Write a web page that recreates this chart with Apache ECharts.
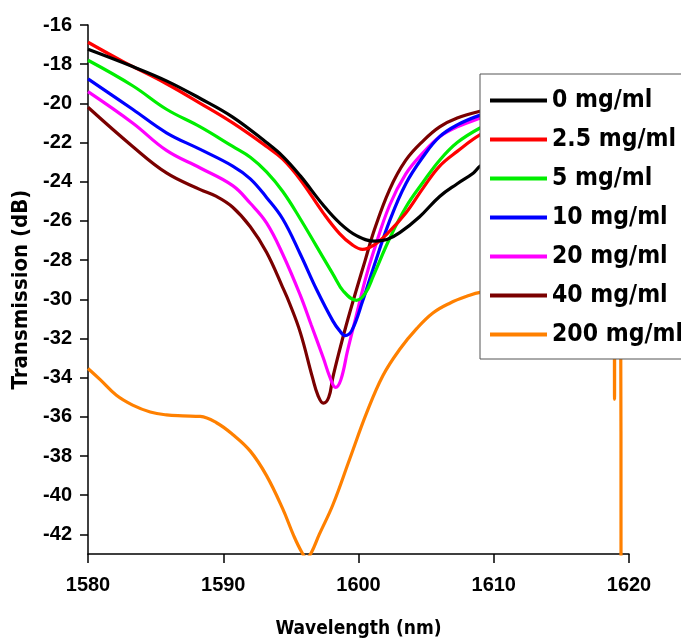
<!DOCTYPE html>
<html>
<head>
<meta charset="utf-8">
<script src="https://cdn.jsdelivr.net/npm/echarts@6/dist/echarts.min.js"></script>
<style>
html,body{margin:0;padding:0;background:#fff;}
#chart{width:681px;height:644px;}
</style>
</head>
<body>
<div id="chart"></div>
<script>
// Data: [wavelength (nm), transmission (dB)]
var seriesNames = ['0 mg/ml', '2.5 mg/ml', '5 mg/ml', '10 mg/ml', '20 mg/ml', '40 mg/ml', '200 mg/ml'];
var seriesColors = ['#000000', '#ff0000', '#00ee00', '#0000ff', '#ff00ff', '#7a0000', '#ff8000'];

var c0 = [[1580,-17.24],[1583.3,-18.12],[1585.8,-18.85],[1588.3,-19.75],[1590.7,-20.7],[1593.2,-22.0],[1594.4,-22.7],[1595.7,-23.7],[1597.4,-25.2],[1598.6,-26.1],[1599.85,-26.75],[1601.2,-27.03],[1602.1,-26.95],[1603.05,-26.6],[1604.5,-25.8],[1606,-24.75],[1607.3,-24.1],[1608.5,-23.55],[1609,-23.2],[1611,-22.3],[1614,-21.0],[1617,-20.0],[1620,-19.3]];
var c25 = [[1580,-16.88],[1582.6,-17.87],[1585.8,-19.0],[1588.3,-20.0],[1590.7,-21.0],[1593.2,-22.2],[1594.4,-22.85],[1595.7,-23.9],[1597.4,-25.6],[1598.6,-26.65],[1599.5,-27.2],[1600.3,-27.45],[1601.1,-27.25],[1602.2,-26.6],[1603.5,-25.6],[1604.8,-24.3],[1606,-23.2],[1607.3,-22.45],[1609,-21.6],[1611,-20.9],[1614,-20.2],[1617,-19.8],[1620,-19.5]];
var c5 = [[1580,-17.8],[1583.3,-19.1],[1585.8,-20.3],[1588.3,-21.2],[1590.7,-22.2],[1592,-22.75],[1593.2,-23.5],[1594.4,-24.5],[1595.7,-25.9],[1596.9,-27.3],[1598.1,-28.7],[1598.9,-29.6],[1599.85,-30.05],[1600.5,-29.7],[1601.1,-28.8],[1602.3,-26.9],[1603.5,-25.3],[1604.8,-24.0],[1606,-22.9],[1607.3,-22.0],[1609,-21.25],[1611,-20.6],[1614,-20.0],[1617,-19.6],[1620,-19.4]];
var c10 = [[1580,-18.75],[1583.3,-20.3],[1585.8,-21.5],[1588.3,-22.35],[1590.7,-23.2],[1592,-23.85],[1593.2,-24.8],[1594.4,-25.9],[1595.7,-27.7],[1596.9,-29.5],[1598.1,-31.1],[1598.6,-31.6],[1599.0,-31.85],[1599.5,-31.6],[1600.3,-30.1],[1601.1,-28.4],[1602.3,-26.0],[1603.5,-24.1],[1604.8,-22.7],[1606,-21.7],[1607.3,-21.1],[1609,-20.6],[1611,-20.2],[1614,-19.8],[1617,-19.5],[1620,-19.3]];
var c20 = [[1580,-19.4],[1583.3,-21.0],[1585.8,-22.4],[1588.3,-23.3],[1590.7,-24.2],[1592,-25.1],[1593.2,-26.1],[1594.4,-27.7],[1595.7,-29.8],[1596.5,-31.3],[1597.4,-33.0],[1597.9,-34.0],[1598.3,-34.5],[1598.7,-34.1],[1599.2,-32.6],[1599.85,-30.8],[1600.5,-29.0],[1601.1,-27.6],[1602.3,-25.2],[1603.5,-23.6],[1604.8,-22.5],[1606,-21.7],[1607.3,-21.2],[1609,-20.75],[1611,-20.3],[1614,-19.9],[1617,-19.6],[1620,-19.4]];
var c40 = [[1580,-20.2],[1583.3,-22.2],[1585.8,-23.55],[1588.3,-24.4],[1589.5,-24.75],[1590.7,-25.3],[1592,-26.3],[1593.2,-27.6],[1594.4,-29.4],[1594.9,-30.2],[1595.7,-31.7],[1596.6,-34.0],[1597.0,-34.9],[1597.4,-35.3],[1597.8,-35.0],[1598.1,-34.0],[1598.6,-32.6],[1599.1,-31.3],[1599.85,-29.5],[1600.5,-28.0],[1601.1,-26.6],[1602.3,-24.4],[1603.5,-22.9],[1604.8,-21.9],[1606,-21.2],[1607.3,-20.75],[1609,-20.4],[1611,-20.1],[1614,-19.8],[1617,-19.6],[1620,-19.5]];
var c200 = [[1580,-33.53],[1580.9,-34.1],[1582.1,-34.9],[1583.3,-35.4],[1584.6,-35.75],[1585.8,-35.9],[1587,-35.95],[1588.3,-35.98],[1589.5,-36.3],[1590.7,-36.9],[1592,-37.75],[1593.2,-39.0],[1594.4,-40.7],[1595.2,-42.05],[1595.8,-42.9],[1596.15,-43.2],[1596.5,-42.95],[1597.1,-42.0],[1598.1,-40.5],[1599.35,-38.15],[1600.6,-35.8],[1601.8,-33.9],[1603.05,-32.55],[1604.3,-31.5],[1605.5,-30.7],[1606.75,-30.2],[1608,-29.85],[1609,-29.65],[1612,-29.5],[1615,-29.45],[1618.9,-29.5],[1618.93,-35.1],[1618.96,-29.5],[1619.38,-29.5],[1619.41,-44]];
var seriesData = [c0, c25, c5, c10, c20, c40, c200];

var xTicks = [1580, 1590, 1600, 1610, 1620];
var yTicks = [-42,-40,-38,-36,-34,-32,-30,-28,-26,-24,-22,-20,-18,-16];

var chart = echarts.init(document.getElementById('chart'), null, {renderer: 'canvas'});

var series = seriesNames.map(function (name, i) {
  return {
    name: name,
    type: 'line',
    data: seriesData[i],
    smooth: 0.4,
    symbol: 'none',
    clip: true,
    lineStyle: {color: seriesColors[i], width: 3.2},
    itemStyle: {color: seriesColors[i]},
    z: 2 + (i === 6 ? 0 : 6 - i)
  };
});

var option = {
  animation: false,
  backgroundColor: '#ffffff',
  grid: {left: 88, right: 52, top: 25, bottom: 89, containLabel: false},
  xAxis: {
    type: 'value',
    min: 1580, max: 1620, interval: 10,
    name: 'Wavelength (nm)',
    nameLocation: 'middle',
    nameGap: 66,
    nameTextStyle: {fontFamily: 'DejaVu Sans Condensed', fontWeight: 'bold', fontSize: 19, color: '#000'},
    axisLine: {show: true, onZero: false, lineStyle: {color: '#000', width: 1.5}},
    axisTick: {show: true, inside: false, length: 9, customValues: xTicks, lineStyle: {color: '#000', width: 1.5}},
    axisLabel: {margin: 21, customValues: xTicks, formatter: function (v) { return String(v); }, fontFamily: 'Liberation Sans', fontWeight: 'bold', fontSize: 20, color: '#000'},
    splitLine: {show: false}
  },
  yAxis: {
    type: 'value',
    min: -43, max: -16,
    name: 'Transmission (dB)',
    nameLocation: 'middle',
    nameGap: 50,
    nameTextStyle: {fontFamily: 'DejaVu Sans Condensed', fontWeight: 'bold', fontSize: 22, color: '#000'},
    axisLine: {show: true, onZero: false, lineStyle: {color: '#000', width: 1.5}},
    axisTick: {show: true, inside: false, length: 8, customValues: yTicks, lineStyle: {color: '#000', width: 1.5}},
    axisLabel: {margin: 16, customValues: yTicks, fontFamily: 'Liberation Sans', fontWeight: 'bold', fontSize: 20, color: '#000'},
    splitLine: {show: false}
  },
  legend: {
    show: true,
    orient: 'vertical',
    left: 480, top: 74,
    padding: [14, 60, 12, 10],
    itemWidth: 57, itemHeight: 24, itemGap: 14,
    backgroundColor: '#ffffff',
    borderColor: '#555555', borderWidth: 1,
    icon: 'path://M0,0 L57,0 L57,4 L0,4 Z',
    textStyle: {fontFamily: 'DejaVu Sans Condensed', fontWeight: 'bold', fontSize: 24.5, color: '#000'},
    data: seriesNames,
    z: 10
  },
  series: series
};
chart.setOption(option);
</script>
</body>
</html>
